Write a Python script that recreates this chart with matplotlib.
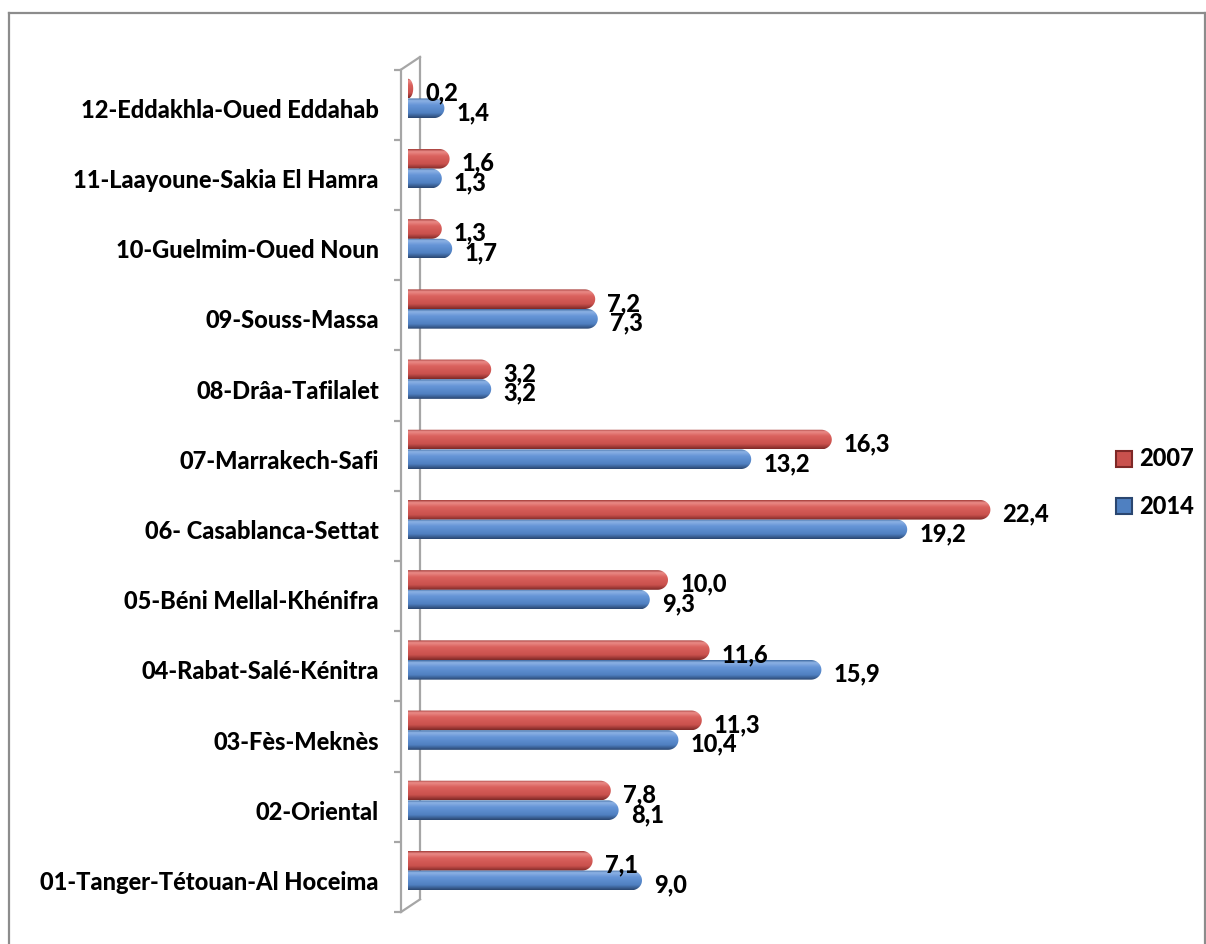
import numpy as np
import matplotlib.pyplot as plt
from matplotlib.path import Path
from matplotlib.patches import PathPatch
from matplotlib.lines import Line2D
from matplotlib.colors import LinearSegmentedColormap

# Données : part des régions (%) en 2007 et 2014
regions = ["01-Tanger-Tétouan-Al Hoceima", "02-Oriental", "03-Fès-Meknès",
           "04-Rabat-Salé-Kénitra", "05-Béni Mellal-Khénifra", "06- Casablanca-Settat",
           "07-Marrakech-Safi", "08-Drâa-Tafilalet", "09-Souss-Massa",
           "10-Guelmim-Oued Noun", "11-Laayoune-Sakia El Hamra", "12-Eddakhla-Oued Eddahab"]
v2007 = [7.1, 7.8, 11.3, 11.6, 10.0, 22.4, 16.3, 3.2, 7.2, 1.3, 1.6, 0.2]
v2014 = [9.0, 8.1, 10.4, 15.9, 9.3, 19.2, 13.2, 3.2, 7.3, 1.7, 1.3, 1.4]
series = ["2007", "2014"]

FONT = "Lato"
FS = 17
FW = 900
GRAY = "#A6A6A6"

red_cmap = LinearSegmentedColormap.from_list("r", [
    (0.0, "#A33C39"), (0.12, "#EA8B87"), (0.35, "#DA615D"),
    (0.75, "#C9514D"), (1.0, "#7E2826")])
blue_cmap = LinearSegmentedColormap.from_list("b", [
    (0.0, "#3D69A1"), (0.12, "#8DB2E4"), (0.35, "#6695D7"),
    (0.75, "#4F80C1"), (1.0, "#2A4670")])


def cylinder(ax, y, v, h, cmap):
    # barre horizontale avec bout arrondi, remplie d'un dégradé vertical
    rx = min(0.4, v)
    t = np.linspace(-np.pi / 2, np.pi / 2, 40)
    xs = np.concatenate([[0], v - rx + rx * np.cos(t), [0, 0]])
    ys = np.concatenate([[y - h / 2], y + h / 2 * np.sin(t), [y + h / 2, y - h / 2]])
    patch = PathPatch(Path(np.column_stack([xs, ys])), facecolor="none",
                      edgecolor="none")
    ax.add_patch(patch)
    grad = np.linspace(0, 1, 64).reshape(-1, 1)
    im = ax.imshow(grad, extent=(0, v, y - h / 2, y + h / 2), origin="upper",
                   cmap=cmap, aspect="auto", interpolation="bilinear", zorder=3)
    im.set_clip_path(patch)


W, H = 1206, 944
fig = plt.figure(figsize=(W / 100, H / 100), dpi=100)
ax_l, ax_r, ax_t, ax_b = 401, 1080, 57, 912
ax = fig.add_axes([ax_l / W, 1 - ax_b / H, (ax_r - ax_l) / W, (ax_b - ax_t) / H])

px = 26.0                 # pixels par unité
x_min = -(408 - ax_l) / px
x_max = x_min + (ax_r - ax_l) / px
y_min, y_max = -0.44, 11.73
wall = (420 - 408) / px

pos = np.arange(len(regions))
h = 0.28
off = 0.28

for i in pos:
    cylinder(ax, i + off, v2007[i], h, red_cmap)
    cylinder(ax, i, v2014[i], h, blue_cmap)
    ax.text(v2007[i] + 0.47, i + off - 0.06, f"{v2007[i]:.1f}".replace(".", ","),
            ha="left", va="center", fontsize=FS, fontweight=FW,
            family=FONT, zorder=5)
    ax.text(v2014[i] + 0.47, i - 0.06, f"{v2014[i]:.1f}".replace(".", ","),
            ha="left", va="center", fontsize=FS, fontweight=FW,
            family=FONT, zorder=5)

# cadre 3D de l'axe
bot, top = -0.45, len(regions) - 0.45
ax.plot([x_min, x_min], [bot, top], color=GRAY, lw=1.6, zorder=2, clip_on=False)
ax.plot([wall, wall], [bot + 0.18, top + 0.18], color=GRAY, lw=1.6, zorder=1, clip_on=False)
ax.plot([x_min, wall], [top, top + 0.18], color=GRAY, lw=1.6, zorder=1, clip_on=False)
ax.plot([x_min, wall], [bot, bot + 0.18], color=GRAY, lw=1.6, zorder=1, clip_on=False)

ax.set_xlim(x_min, x_max)
ax.set_ylim(y_min, y_max)
for s in ax.spines.values():
    s.set_visible(False)
ax.set_xticks([])
ax.set_yticks(np.arange(len(regions) + 1) - 0.45)
ax.set_yticklabels([])
ax.tick_params(axis="y", which="major", length=5, width=1.6, color=GRAY, left=True)
ax.set_yticks(pos, minor=True)
ax.set_yticklabels(regions, minor=True, fontsize=FS, fontweight=FW, family=FONT)
ax.tick_params(axis="y", which="minor", length=0, pad=16)
ax.patch.set_alpha(0)

# légende
for k, (lab, col, edge) in enumerate(zip(series, ["#C9514D", "#4F80C1"],
                                          ["#7E2826", "#2A4670"])):
    yy = 1 - (459 + k * 47) / H
    fig.add_artist(Line2D([1124 / W], [yy], marker="s", markersize=11,
                          markerfacecolor=col, markeredgecolor=edge,
                          markeredgewidth=1.5, transform=fig.transFigure))
    fig.text(1139 / W, yy, lab, ha="left", va="center", fontsize=FS,
             fontweight=FW, family=FONT)

# bordure du graphique
bx0, by0, bx1 = 9 / W, 1 - 13 / H, 1205 / W
fig.add_artist(Line2D([bx0, bx0], [0, by0], color="#8C8C8C", lw=1.6,
                      transform=fig.transFigure))
fig.add_artist(Line2D([bx0, bx1], [by0, by0], color="#8C8C8C", lw=1.6,
                      transform=fig.transFigure))
fig.add_artist(Line2D([bx1, bx1], [0, by0], color="#8C8C8C", lw=1.6,
                      transform=fig.transFigure))

fig.savefig("out.png", dpi=100)
